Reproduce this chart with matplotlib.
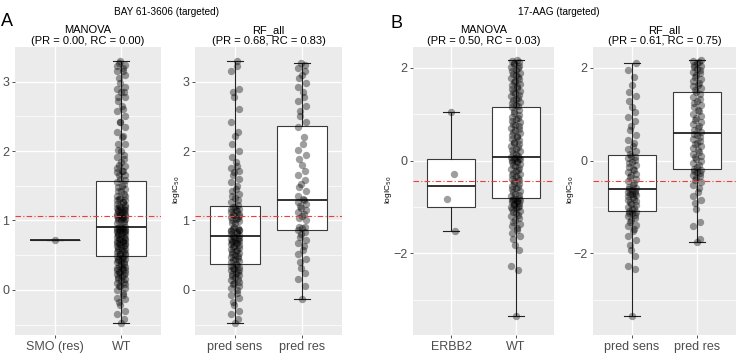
import matplotlib
matplotlib.use("Agg")
import matplotlib.pyplot as plt
import numpy as np

plt.rcParams['font.family'] = ['Liberation Sans', 'DejaVu Sans']

# ---------------- data: panel A (BAY 61-3606) ----------------
A_title = "BAY 61-3606 (targeted)"
A_smo_res = [0.72]
A_pred_sens = [
    -0.47, -0.42, -0.35, -0.30, -0.22, -0.18, -0.12, -0.08, -0.05, 0.00,
    0.03, 0.06, 0.08, 0.10, 0.12, 0.14, 0.16, 0.18, 0.20, 0.21,
    0.23, 0.25, 0.26, 0.28, 0.29, 0.30, 0.32, 0.33, 0.34, 0.36,
    0.38, 0.40, 0.41, 0.43, 0.44, 0.46, 0.47, 0.49, 0.50, 0.52,
    0.53, 0.55, 0.56, 0.58, 0.59, 0.60, 0.62, 0.63, 0.64, 0.66,
    0.67, 0.68, 0.69, 0.70, 0.71, 0.72, 0.73, 0.74, 0.75, 0.76,
    0.78, 0.79, 0.81, 0.82, 0.84, 0.85, 0.87, 0.88, 0.90, 0.86,
    0.87, 0.89, 0.96, 0.97, 0.99, 1.00, 1.02, 1.03, 1.05, 1.06,
    1.08, 1.09, 1.10, 1.12, 1.13, 1.15, 1.16, 1.17, 1.19, 1.20,
    1.23, 1.26, 1.29, 1.32, 1.35, 1.38, 1.42, 1.46, 1.50, 1.55,
    1.60, 1.66, 1.70, 1.72, 1.75, 1.78, 1.85, 1.92, 2.00, 2.10,
    2.22, 2.28, 2.42, 2.60, 2.78, 2.85, 2.90, 3.15, 3.22, 3.30]
A_pred_res = [
    -0.13, 0.05, 0.15, 0.25, 0.32, 0.40, 0.45, 0.52, 0.58, 0.63,
    0.68, 0.72, 0.76, 0.80, 0.84, 0.87, 0.90, 0.89, 0.91, 1.00,
    1.03, 1.06, 1.09, 1.12, 1.15, 1.18, 1.21, 1.24, 1.27, 1.29,
    1.31, 1.36, 1.42, 1.48, 1.52, 1.58, 1.65, 1.72, 1.80, 1.88,
    1.95, 2.02, 2.10, 2.20, 2.35, 2.42, 2.50, 2.58, 2.65, 2.72,
    2.78, 2.85, 2.92, 2.98, 3.05, 3.10, 3.15, 3.20, 3.24, 3.27]
A_threshold = 1.07

# ---------------- data: panel B (17-AAG) ----------------
B_title = "17-AAG (targeted)"
B_erbb2 = [1.05, -0.29, -0.82, -1.52]
B_wt = [
    -3.34, -2.35, -2.28, -1.92, -1.82, -1.70, -1.62, -1.55, -1.50, -1.45,
    -1.40, -1.36, -1.32, -1.28, -1.24, -1.20, -1.17, -1.14, -1.11, -1.08,
    -1.05, -1.03, -1.01, -0.99, -0.97, -0.95, -0.93, -0.91, -0.89, -0.88,
    -0.86, -0.85, -0.84, -0.83, -0.82,
    -0.80, -0.77, -0.74, -0.71, -0.68, -0.65, -0.62, -0.60, -0.57, -0.54,
    -0.51, -0.48, -0.45, -0.42, -0.40, -0.37, -0.34, -0.31, -0.28, -0.26,
    -0.23, -0.20, -0.17, -0.15, -0.12, -0.09, -0.07, -0.04, -0.02, 0.00,
    0.01, 0.03, 0.04, 0.05, 0.06,
    0.08, 0.11, 0.14, 0.17, 0.20, 0.23, 0.26, 0.29, 0.32, 0.35,
    0.38, 0.41, 0.44, 0.47, 0.50, 0.53, 0.56, 0.59, 0.62, 0.65,
    0.68, 0.71, 0.74, 0.77, 0.80, 0.83, 0.86, 0.89, 0.92, 0.95,
    0.98, 1.02, 1.06, 1.10, 1.15,
    1.18, 1.21, 1.24, 1.27, 1.30, 1.33, 1.36, 1.39, 1.42, 1.45,
    1.48, 1.51, 1.54, 1.57, 1.60, 1.63, 1.66, 1.69, 1.72, 1.75,
    1.78, 1.81, 1.84, 1.87, 1.90, 1.93, 1.96, 1.99, 2.02, 2.05,
    2.08, 2.11, 2.13, 2.15, 2.16]
B_pred_sens = [
    -3.34, -2.33, -2.28, -2.05, -1.92, -1.82, -1.72, -1.62, -1.52, -1.48,
    -1.42, -1.38, -1.33, -1.28, -1.24, -1.20, -1.17, -1.14, -1.12, -1.10,
    -1.08, -1.05, -1.02, -0.99, -0.96, -0.93, -0.90, -0.87, -0.84, -0.82,
    -0.79, -0.77, -0.75, -0.73, -0.71, -0.69, -0.67, -0.65, -0.63, -0.62,
    -0.60, -0.56, -0.52, -0.48, -0.44, -0.40, -0.36, -0.32, -0.29, -0.25,
    -0.21, -0.17, -0.13, -0.09, -0.05, -0.02, 0.02, 0.05, 0.08, 0.11,
    0.14, 0.20, 0.26, 0.32, 0.38, 0.45, 0.55, 0.65, 0.75, 0.85,
    0.95, 1.05, 1.15, 1.28, 1.40, 1.48, 1.62, 1.80, 1.95, 2.10]
B_pred_res = [
    -1.75, -1.68, -1.40, -1.32, -1.05, -0.92, -0.85, -0.76, -0.68, -0.60,
    -0.53, -0.47, -0.42, -0.37, -0.33, -0.30, -0.27, -0.24, -0.22, -0.20,
    -0.17, -0.13, -0.09, -0.05, -0.01, 0.03, 0.07, 0.11, 0.15, 0.19,
    0.23, 0.27, 0.31, 0.35, 0.39, 0.43, 0.47, 0.51, 0.55, 0.58,
    0.61, 0.65, 0.70, 0.74, 0.79, 0.83, 0.88, 0.92, 0.97, 1.01,
    1.06, 1.10, 1.15, 1.19, 1.24, 1.28, 1.33, 1.38, 1.43, 1.48,
    1.52, 1.56, 1.60, 1.64, 1.68, 1.72, 1.76, 1.80, 1.84, 1.88,
    1.92, 1.95, 1.98, 2.01, 2.04, 2.07, 2.10, 2.12, 2.14, 2.16]
B_threshold = -0.44

# A: wild type = all cell lines except the SMO-mutant one
_A_all = sorted(A_pred_sens + A_pred_res)
_A_all.remove(A_smo_res[0])
A_wt = _A_all

A_manova_labels = ["SMO (res)", "WT"]
A_rf_labels = ["pred sens", "pred res"]
B_manova_labels = ["ERBB2", "WT"]
B_rf_labels = ["pred sens", "pred res"]

A_manova_title = "MANOVA\n(PR = 0.00, RC = 0.00)"
A_rf_title = "RF_all\n(PR = 0.68, RC = 0.83)"
B_manova_title = "MANOVA\n(PR = 0.50, RC = 0.03)"
B_rf_title = "RF_all\n(PR = 0.61, RC = 0.75)"

A_yticks = [0, 1, 2, 3]
A_yminor = [-0.5, 0.5, 1.5, 2.5]
B_yticks = [-2, 0, 2]
B_yminor = [-3, -1, 1]

# ---------------- figure ----------------
W, H = 739, 353
fig = plt.figure(figsize=(W / 100, H / 100), dpi=100)


def px_rect(x0, x1, ytop, ybot):
    return [x0 / W, 1 - ybot / H, (x1 - x0) / W, (ybot - ytop) / H]


def panel(rect, groups, labels, ylim, yticks, yminor, thr, title):
    ax = fig.add_axes(rect)
    ax.set_facecolor('#EBEBEB')
    pos = np.arange(1, len(groups) + 1)
    ax.boxplot(groups, positions=pos, widths=0.75, whis=(0, 100),
               capwidths=0.25, patch_artist=True, showfliers=False,
               boxprops=dict(facecolor='white', edgecolor='#3a3a3a', linewidth=0.8),
               medianprops=dict(color='#222222', linewidth=1.3),
               whiskerprops=dict(color='#222222', linewidth=0.8),
               capprops=dict(color='#222222', linewidth=0.8), zorder=2)
    for p, g in zip(pos, groups):
        g = np.asarray(g, dtype=float)
        jit = 0.065 * np.sin(np.arange(len(g)) * 2.399)
        ax.scatter(p + jit, g, s=28, color='black', alpha=0.38,
                   linewidths=0, zorder=3)
    ax.axhline(thr, color='#F03C3C', ls=(0, (5, 2, 1, 2)), lw=0.8, zorder=4)
    ax.set_xlim(0.4, len(groups) + 0.6)
    ax.set_ylim(*ylim)
    ax.set_xticks(pos)
    ax.set_xticklabels(labels)
    ax.set_yticks(yticks)
    ax.set_yticks(yminor, minor=True)
    ax.grid(which='major', color='white', lw=1.0)
    ax.grid(which='minor', axis='y', color='white', lw=0.5)
    ax.set_axisbelow(True)
    for s in ax.spines.values():
        s.set_visible(False)
    ax.tick_params(which='major', length=2.5, width=0.6, color='#333333',
                   labelcolor='#4D4D4D', labelsize=9, pad=1.5)
    ax.tick_params(which='minor', length=0)
    ax.set_title(title, fontsize=8, pad=2.5, linespacing=1.05)
    return ax


top, bot = 47, 335
A_ylim = (-0.65, 3.50)
B_ylim = (-3.76, 2.45)

panel(px_rect(15, 161, top, bot), [A_smo_res, A_wt], A_manova_labels,
      A_ylim, A_yticks, A_yminor, A_threshold, A_manova_title)
panel(px_rect(195, 342, top, bot), [A_pred_sens, A_pred_res], A_rf_labels,
      A_ylim, A_yticks, A_yminor, A_threshold, A_rf_title)
panel(px_rect(413, 554, top, bot), [B_erbb2, B_wt], B_manova_labels,
      B_ylim, B_yticks, B_yminor, B_threshold, B_manova_title)
panel(px_rect(593, 736, top, bot), [B_pred_sens, B_pred_res], B_rf_labels,
      B_ylim, B_yticks, B_yminor, B_threshold, B_rf_title)

# y-axis labels
for xpx in (177, 388, 570):
    fig.text(xpx / W, 1 - 190 / H, r"logIC$_{50}$", rotation=90,
             ha='center', va='center', fontsize=6)

# drug titles and panel letters
fig.text(166 / W, 1 - 12 / H, A_title, ha='center', va='center', fontsize=7.2)
fig.text(559 / W, 1 - 12 / H, B_title, ha='center', va='center', fontsize=7.2)
fig.text(0.5 / W, 1 - 22 / H, "A", ha='left', va='center', fontsize=13)
fig.text(396 / W, 1 - 24 / H, "B", ha='center', va='center', fontsize=13)

fig.savefig("out.png", dpi=100)
